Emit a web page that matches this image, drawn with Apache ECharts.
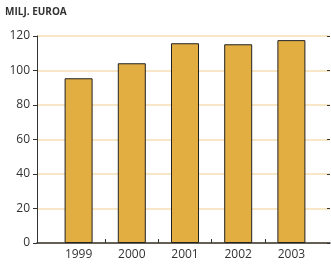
<!DOCTYPE html>
<html>
<head>
<meta charset="utf-8">
<script src="https://cdn.jsdelivr.net/npm/echarts@6/dist/echarts.min.js"></script>
<style>
  html, body { margin: 0; padding: 0; background: #fff; }
  #chart { width: 331px; height: 266px; }
</style>
</head>
<body>
<div id="chart"></div>
<script>
// vuodet ja arvot (milj. euroa)
var years = ['1999', '2000', '2001', '2002', '2003'];
var values = [95.5, 104.2, 115.8, 115.2, 117.6];
var yTicks = [0, 20, 40, 60, 80, 100, 120];

var myChart = echarts.init(document.getElementById('chart'));
var axisColor = '#333';
var gridColor = '#f6dfb4';

// väliviivat vuosien välissä
var gaps = years.slice(1).map(function () { return ''; });

myChart.setOption({
  animation: false,
  title: {
    text: 'MILJ. EUROA',
    left: 5,
    top: 7,
    padding: 0,
    textStyle: { fontSize: 10, fontWeight: 'bold', color: '#333', fontFamily: 'Open Sans' }
  },
  grid: [
    // koko alue: akselit ja apuviivat
    { left: 37, right: 1, top: 36, bottom: 23 },
    // pylväät
    { left: 52, right: 13, top: 36, bottom: 23 },
    // x-akselin väliviivat
    { left: 105, right: 66, top: 36, bottom: 23 }
  ],
  xAxis: [
    {
      gridIndex: 0, type: 'category', data: [''],
      axisLine: { lineStyle: { color: axisColor, width: 1.5 } },
      axisTick: { show: false }, axisLabel: { show: false }
    },
    {
      gridIndex: 1, type: 'category', data: years,
      axisLine: { show: false },
      axisTick: { show: false },
      axisLabel: { color: '#333', fontSize: 12, fontFamily: 'Open Sans', margin: 6 }
    },
    {
      gridIndex: 2, type: 'category', data: gaps, boundaryGap: false,
      axisLine: { show: false },
      axisTick: { show: true, inside: true, length: 4, interval: 0, lineStyle: { color: axisColor } },
      axisLabel: { show: false }
    }
  ],
  yAxis: [
    {
      gridIndex: 0, type: 'value', min: yTicks[0], max: yTicks[yTicks.length - 1], interval: 20,
      axisLine: { show: true, lineStyle: { color: axisColor } },
      axisTick: { show: true, length: 4, lineStyle: { color: axisColor } },
      axisLabel: { color: '#333', fontSize: 12, fontFamily: 'Open Sans', margin: 7 },
      splitLine: { show: true, lineStyle: { color: gridColor, width: 1.5 } }
    },
    {
      gridIndex: 0, type: 'value', position: 'right', min: 0, max: 120, interval: 20,
      axisLine: { show: false },
      axisTick: { show: true, inside: true, length: 3, lineStyle: { color: axisColor } },
      axisLabel: { show: false }, splitLine: { show: false }
    },
    { gridIndex: 1, type: 'value', min: 0, max: 120, show: false },
    { gridIndex: 2, type: 'value', min: 0, max: 120, show: false }
  ],
  series: [
    {
      type: 'bar',
      xAxisIndex: 1,
      yAxisIndex: 2,
      data: values,
      barWidth: 28,
      itemStyle: { color: '#e2ae42', borderColor: '#222', borderWidth: 1 }
    }
  ]
});
</script>
</body>
</html>
